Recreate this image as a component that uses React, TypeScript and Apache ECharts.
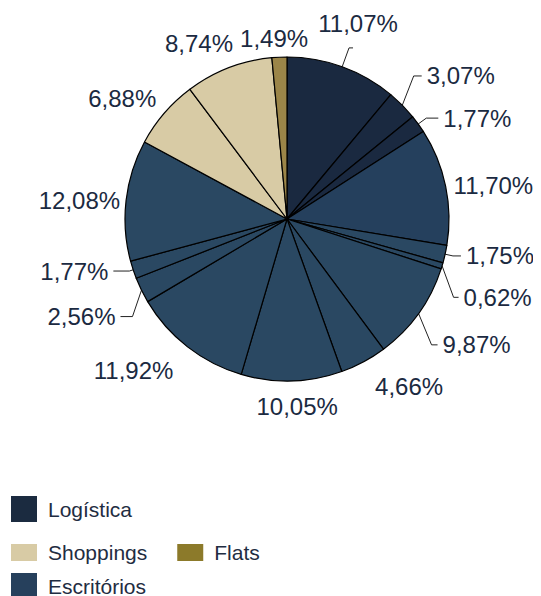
import React, { useEffect, useRef } from "react";
import * as echarts from "echarts";

const categories = [
  "Logística", "Logística", "Logística",
  "Escritórios", "Escritórios", "Escritórios", "Escritórios", "Escritórios",
  "Escritórios", "Escritórios", "Escritórios", "Escritórios", "Escritórios",
  "Shoppings", "Shoppings", "Flats",
];
const values = [11.07, 3.07, 1.77, 11.7, 1.75, 0.62, 9.87, 4.66, 10.05, 11.92, 2.56, 1.77, 12.08, 6.88, 8.74, 1.49];

const sliceColors = [
  "#1a2940", "#1a2940", "#1a2940",
  "#25405d", "#2a4862", "#2a4862", "#2a4862", "#2a4862",
  "#2a4862", "#2a4862", "#2a4862", "#2a4862", "#2a4862",
  "#d8cba5", "#d8cba5", "#9b8548",
];
const legendColors: Record<string, string> = {
  "Logística": "#1b2b40",
  "Shoppings": "#d8cba5",
  "Flats": "#8c7a2a",
  "Escritórios": "#26405c",
};

// label styling per slice (leader line lengths, alignment, offsets)
const lineLen = [20, 16, 10, 3, 8, 12, 16, 14, 14, 15, 10, 4, 1, 4, 13, 7];
const lineLen2 = [4, 8, 12, 0, 8, 5, 6, 0, 0, 0, 12, 16, 0, 0, 20, 0];
const lineShown = [true, true, true, false, true, true, true, false, false, false, true, true, false, false, false, false];
const labelAlign = ["", "", "", "", "", "", "", "", "center", "", "", "", "", "", "center", "center"];
const labelVAlign = ["", "", "", "", "", "", "", "top", "top", "top", "", "", "", "bottom", "bottom", "bottom"];
const labelDy = [-24, -18, 0, 0, 0, 28, 22, 0, 0, 0, 22, 0, 0, 0, 0, 0];
const shiftLine = [false, true, false, false, false, true, true, false, false, false, true, false, false, false, false, false];
const centerShift = [true, false, false, false, false, false, false, false, false, false, false, false, false, false, false, false];

export default function App() {
  const ref = useRef<HTMLDivElement>(null);
  useEffect(() => {
    if (!ref.current) return;
    const chart = echarts.init(ref.current, null, { renderer: "svg" });
    const font = "Liberation Sans, Arial, sans-serif";
    const legendBase = {
      icon: "rect",
      itemWidth: 26,
      itemHeight: 26,
      padding: 0,
      orient: "horizontal" as const,
      selectedMode: false,
      textStyle: { fontSize: 21, color: "#1f2d42", fontFamily: font, padding: [0, 0, 0, 6] },
      itemStyle: { borderWidth: 0 },
    };
    chart.setOption({
      animation: false,
      backgroundColor: "#ffffff",
      legend: [
        { ...legendBase, left: 3, top: 488, data: [{ name: "Logística", itemStyle: { color: legendColors["Logística"] } }] },
        {
          ...legendBase,
          left: 3,
          top: 534,
          itemGap: 30,
          itemHeight: 17,
          data: [
            { name: "Shoppings", itemStyle: { color: legendColors["Shoppings"] } },
            { name: "Flats", itemStyle: { color: legendColors["Flats"] } },
          ],
        },
        { ...legendBase, left: 3, top: 565, data: [{ name: "Escritórios", itemStyle: { color: legendColors["Escritórios"] } }] },
      ],
      series: [
        {
          type: "pie",
          center: [279, 211],
          radius: 162,
          startAngle: 90,
          clockwise: true,
          avoidLabelOverlap: false,
          itemStyle: { borderColor: "#000000", borderWidth: 1.2 },
          label: {
            show: true,
            position: "outside",
            fontSize: 24,
            color: "#1b2a41",
            fontFamily: font,
            overflow: "none",
            formatter: (p: any) => p.value.toFixed(2).replace(".", ",") + "%",
          },
          labelLine: { show: true, lineStyle: { color: "#222222", width: 1 } },
          labelLayout: (p: any) => {
            const i = p.dataIndex;
            const o: any = {};
            if (labelAlign[i]) o.align = labelAlign[i];
            if (labelVAlign[i]) o.verticalAlign = labelVAlign[i];
            const dy = labelDy[i];
            if (dy) o.dy = dy;
            if (centerShift[i] && p.labelRect) o.dx = -p.labelRect.width / 2;
            const pts = p.labelLinePoints;
            if (shiftLine[i] && pts && pts.length >= 3) {
              o.labelLinePoints = [pts[0], [pts[1][0], pts[1][1] + dy], [pts[2][0], pts[2][1] + dy]];
            }
            return o;
          },
          emphasis: { disabled: true },
          data: values.map((v, i) => ({
            name: categories[i],
            value: v,
            itemStyle: { color: sliceColors[i] },
            labelLine: { show: lineShown[i], length: lineLen[i], length2: lineLen2[i] },
          })),
        },
      ],
    });
    return () => chart.dispose();
  }, []);
  return <div ref={ref} style={{ width: 525, height: 588 }} />;
}
